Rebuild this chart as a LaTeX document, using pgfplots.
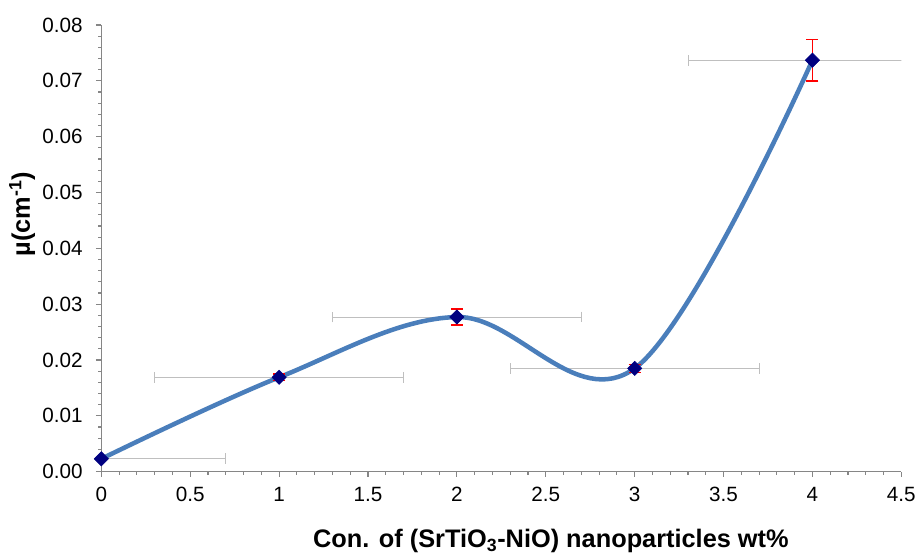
\documentclass[border=0pt]{standalone}
\usepackage{fontspec}
\setmainfont{Liberation Sans}
\usepackage{pgfplots}
\pgfplotsset{compat=1.18}
\definecolor{lineblue}{HTML}{4A7EBB}
\definecolor{navymark}{HTML}{000080}
\definecolor{errgray}{HTML}{BFBFBF}
\definecolor{axgray}{HTML}{868686}
\pgfplotstableread{
x y ex ey
0 0.0023 0.7 0.0000
1 0.0169 0.7 0.0006
2 0.0277 0.7 0.0014
3 0.0185 0.7 0.0007
4 0.0737 0.7 0.0037
}\datatable
\begin{document}
\begin{tikzpicture}
\begin{axis}[
  name=ax,
  scale only axis, width=600pt, height=335pt,
  xmin=0, xmax=4.5, ymin=0, ymax=0.08,
  axis x line*=bottom, axis y line*=left,
  axis line style={axgray, line width=0.9pt},
  xtick={0,0.5,1,1.5,2,2.5,3,3.5,4,4.5},
  ytick={0,0.01,0.02,0.03,0.04,0.05,0.06,0.07,0.08},
  minor x tick num=4, minor y tick num=4,
  tick align=outside, major tick length=4pt, minor tick length=2.5pt,
  tick style={axgray, line width=0.8pt},
  /pgf/number format/assume math mode=true,
  ticklabel style={font=\fontsize{15.5}{18}\selectfont, black},
  yticklabel style={/pgf/number format/fixed, /pgf/number format/fixed zerofill, /pgf/number format/precision=2, xshift=-6.5pt},
  xticklabel style={/pgf/number format/fixed, yshift=-4pt},
  scaled y ticks=false,
  xlabel={Con. of (SrTiO\textsubscript{3}-NiO) nanoparticles wt\%},
  ylabel={µ(cm\textsuperscript{-1})},
  label style={font=\fontsize{19}{22}\selectfont\bfseries},
  xlabel style={at={(axis description cs:0.562,0)}, anchor=base, yshift=-56.5pt},
  ylabel style={at={(axis description cs:-0.099,0.577)}, anchor=center},
  clip mode=individual,
]
\addplot[draw=none, forget plot,
  error bars/.cd, x dir=both, x explicit,
  error bar style={errgray, line width=0.75pt},
  error mark options={errgray, line width=0.75pt, mark size=4pt, rotate=90}]
  table[x=x, y=y, x error=ex] {\datatable};
\addplot[lineblue, line width=3.4pt, smooth, tension=0.6, no marks]
  table[x=x, y=y] {\datatable};
\addplot[draw=none, forget plot,
  error bars/.cd, y dir=both, y explicit,
  error bar style={red, line width=1.1pt},
  error mark options={red, line width=1.1pt, mark size=4.5pt, rotate=90}]
  table[x=x, y=y, y error=ey] {\datatable};
\addplot[only marks, mark=square*, mark size=3.8pt,
  mark options={rotate=45, fill=navymark, draw=navymark}]
  table[x=x, y=y] {\datatable};
\end{axis}
\pgfresetboundingbox
\useasboundingbox ([xshift=-76pt,yshift=-63pt]ax.south west) rectangle ([xshift=13.25pt,yshift=18.75pt]ax.north east);
\end{tikzpicture}
\end{document}
